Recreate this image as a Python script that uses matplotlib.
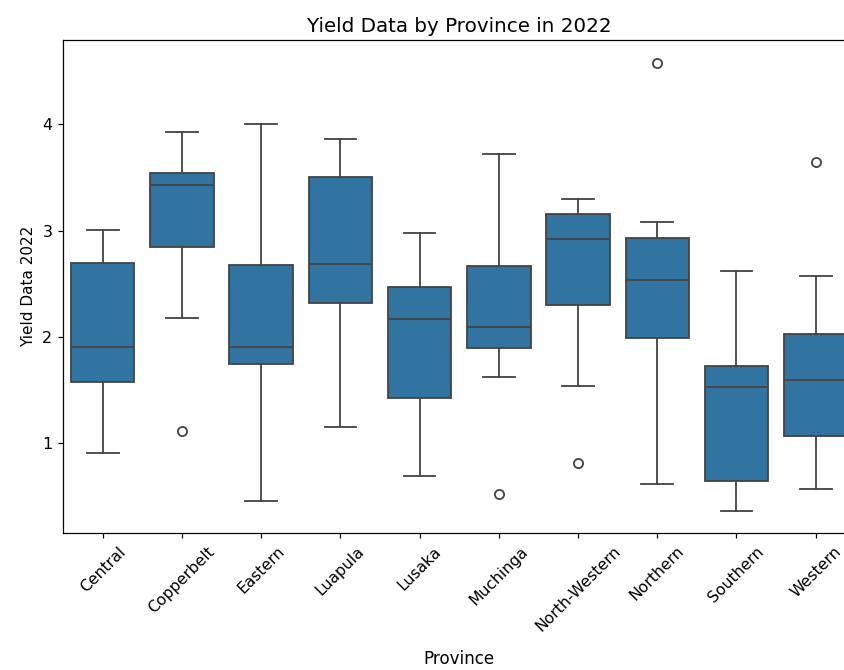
import matplotlib
matplotlib.use("Agg")
import matplotlib.pyplot as plt

# ---- data ----
provinces = ["Central", "Copperbelt", "Eastern", "Luapula", "Lusaka",
             "Muchinga", "North-Western", "Northern", "Southern", "Western"]
whislo = [0.912, 2.18, 0.457, 1.150, 0.695, 1.624, 1.539, 0.614, 0.360, 0.567]
q1     = [1.574, 2.85, 1.743, 2.317, 1.423, 1.900, 2.301, 1.991, 0.648, 1.069]
med    = [1.909, 3.43, 1.909, 2.687, 2.166, 2.091, 2.922, 2.533, 1.532, 1.595]
q3     = [2.693, 3.545, 2.677, 3.508, 2.473, 2.671, 3.154, 2.934, 1.730, 2.028]
whishi = [3.004, 3.93, 4.004, 3.860, 2.981, 3.719, 3.295, 3.079, 2.621, 2.577]
outliers = [[], [1.12], [], [], [], [0.523], [0.818], [4.575], [], [3.643]]

title = "Yield Data by Province in 2022"
xlabel = "Province"
ylabel = "Yield Data 2022"

# ---- drawing ----
DPI = 110
fig = plt.figure(figsize=(844 / DPI, 670 / DPI), dpi=DPI)
ax = fig.add_axes([0.0748, 0.2045, 0.9386, 0.7358])

stats = []
for i, name in enumerate(provinces):
    stats.append(dict(label=name, whislo=whislo[i], q1=q1[i], med=med[i],
                      q3=q3[i], whishi=whishi[i], fliers=outliers[i]))

box_color = "#3274a1"
line_color = "#454545"
lw = 1.2
ax.bxp(stats, positions=range(len(provinces)), widths=0.8, capwidths=0.4,
       patch_artist=True,
       boxprops=dict(facecolor=box_color, edgecolor=line_color, linewidth=lw),
       whiskerprops=dict(color=line_color, linewidth=lw),
       capprops=dict(color=line_color, linewidth=lw),
       medianprops=dict(color=line_color, linewidth=lw),
       flierprops=dict(marker="o", markerfacecolor="none",
                       markeredgecolor=line_color, markersize=6,
                       markeredgewidth=lw))

ax.set_xlim(-0.5, len(provinces) - 0.5)
ax.set_ylim(0.156, 4.794)
ax.set_yticks([1, 2, 3, 4])
ax.tick_params(axis="y", labelsize=10.5)
ax.set_xticks(range(len(provinces)))
ax.set_xticklabels(provinces, rotation=45, fontsize=10.2)
ax.set_xlabel(xlabel, fontsize=11, labelpad=10)
ax.set_ylabel(ylabel, fontsize=10)
ax.set_title(title, fontsize=13, pad=5)

fig.savefig("out.png", dpi=DPI)
